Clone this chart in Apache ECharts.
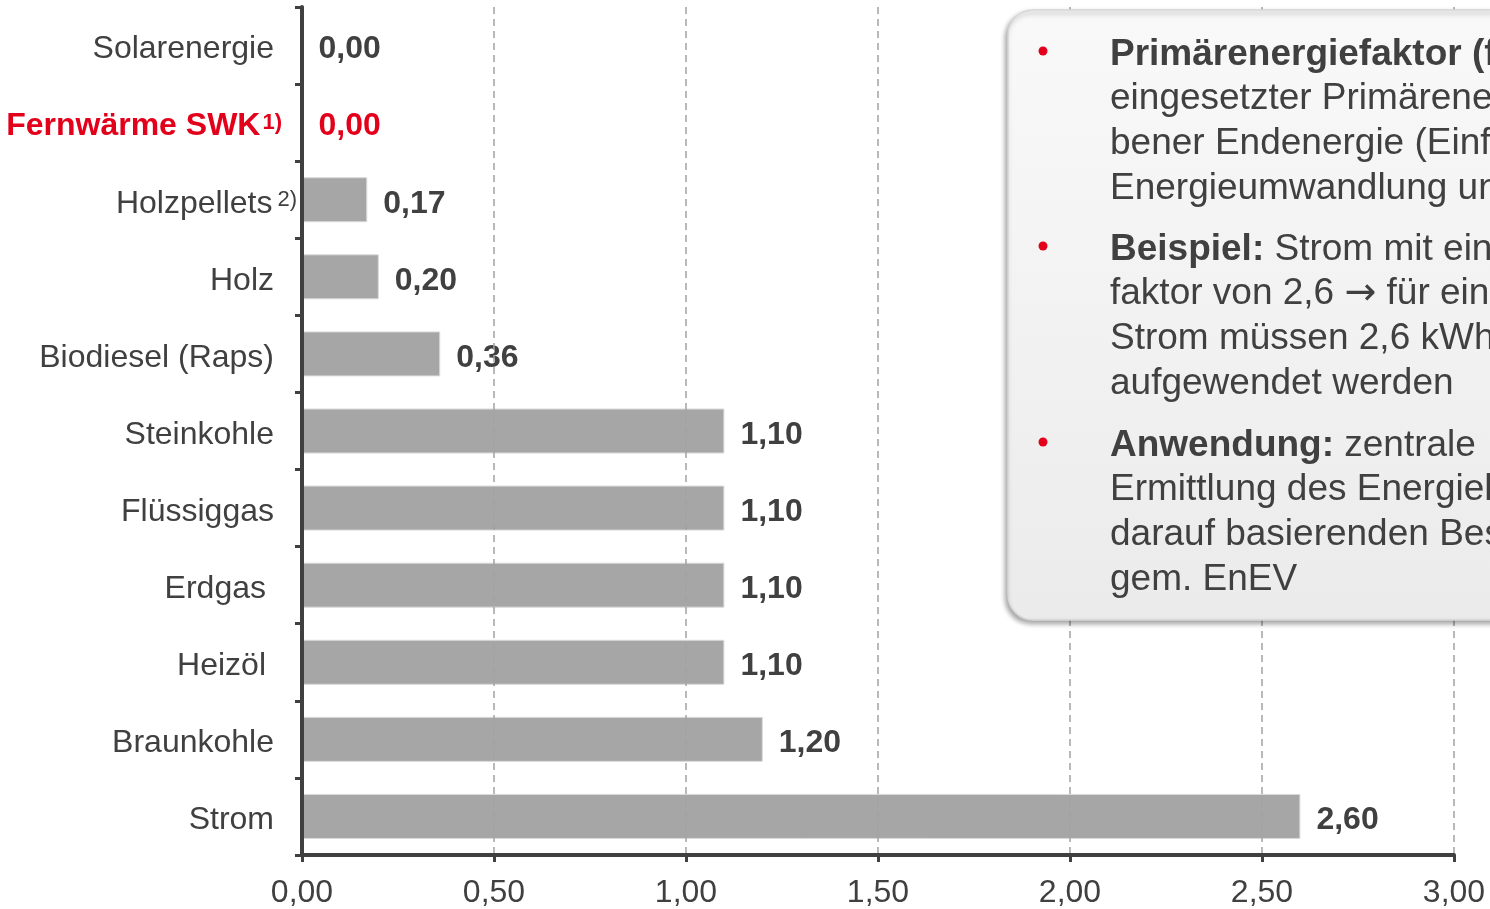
<!DOCTYPE html>
<html>
<head>
<meta charset="utf-8">
<script src="https://cdn.jsdelivr.net/npm/echarts@6/dist/echarts.min.js"></script>
<style>
  html, body { margin: 0; padding: 0; background: #fff; }
  #myEcharts { width: 1490px; height: 909px; }
</style>
</head>
<body>
<div id="myEcharts"></div>
<script>
// Kategorien von oben nach unten
var categories = ['Solarenergie', 'Fernwärme SWK', 'Holzpellets', 'Holz', 'Biodiesel (Raps)',
  'Steinkohle', 'Flüssiggas', 'Erdgas', 'Heizöl', 'Braunkohle', 'Strom'];
// Primärenergiefaktoren
var values = [0.00, 0.00, 0.17, 0.20, 0.36, 1.10, 1.10, 1.10, 1.10, 1.20, 2.60];
var highlight = 'Fernwärme SWK';
var footnotes = { 'Fernwärme SWK': '1)', 'Holzpellets': '2)' };
// Achsenbeschriftung
var xTicks = ['0,00', '0,50', '1,00', '1,50', '2,00', '2,50', '3,00'];

// Textbox rechts oben
var infoParagraphs = [
  ['{b|Primärenergiefaktor (f}', '{r|eingesetzter Primärene}', '{r|bener Endenergie (Einf}', '{r|Energieumwandlung un}'],
  ['{b|Beispiel:}{r| Strom mit ein}', '{r|faktor von 2,6 }{a|→}{r| für ein}', '{r|Strom müssen 2,6 kWh}', '{r|aufgewendet werden}'],
  ['{b|Anwendung:}{r| zentrale}', '{r|Ermittlung des Energiek}', '{r|darauf basierenden Bes}', '{r|gem. EnEV}']
];

var dark = '#404040';
var red = '#e2001a';
var font = 'Arial, "Liberation Sans", sans-serif';

function fmt(v) { return v.toFixed(2).replace('.', ','); }

window.onload = function () {
  var myChart = echarts.init(document.getElementById('myEcharts'));

  var seriesData = values.map(function (v, i) {
    if (categories[i] === highlight) {
      return { value: v, label: { color: red } };
    }
    return v;
  });

  // Absatz-Texte der Infobox
  var infoGraphics = [];
  var paraTops = [32, 227, 423];
  var bullets = [51, 246, 442];
  var lh = 44.7;
  infoParagraphs.forEach(function (lines, p) {
    infoGraphics.push({
      type: 'circle', z: 102,
      shape: { cx: 1043, cy: bullets[p], r: 4.5 },
      style: { fill: red }
    });
    infoGraphics.push({
      type: 'text', z: 102,
      x: 1110, y: paraTops[p],
      style: {
        text: lines.join('\n'),
        fill: dark,
        font: '37px ' + font,
        verticalAlign: 'top',
        rich: {
          b: { fontSize: 37, fontWeight: 'bold', fontFamily: font, color: dark, lineHeight: lh },
          r: { fontSize: 37, fontFamily: font, color: dark, lineHeight: lh },
          a: { fontSize: 38, fontFamily: '"DejaVu Sans"', color: dark, lineHeight: lh }
        }
      }
    });
  });

  var option = {
    animation: false,
    backgroundColor: '#ffffff',
    textStyle: { fontFamily: font },
    grid: { left: 302, right: 36, top: 7, bottom: 51, containLabel: false },
    xAxis: {
      type: 'value',
      min: 0, max: 3, interval: 0.5,
      z: 5,
      axisLine: { show: true, lineStyle: { color: dark, width: 4 } },
      axisTick: { show: true, length: 7, lineStyle: { color: dark, width: 3 } },
      axisLabel: {
        margin: 22, fontSize: 32, color: dark, fontFamily: font,
        formatter: function (v) { return xTicks[Math.round(v / 0.5)]; }
      },
      splitLine: { show: true, lineStyle: { color: '#a3a3a3', width: 1.5, type: [7, 5] } }
    },
    yAxis: {
      type: 'category',
      inverse: true,
      data: categories,
      z: 5,
      axisLine: { show: true, lineStyle: { color: dark, width: 4 } },
      axisTick: { show: true, length: 7, lineStyle: { color: dark, width: 3 } },
      axisLabel: {
        margin: 5,
        formatter: function (name) {
          if (name === highlight) return '{fw|' + name + '}{fwsup|' + footnotes[name] + '}';
          if (footnotes[name]) return '{hp|' + name + '}{sup|' + footnotes[name] + '}';
          if (name === 'Erdgas' || name === 'Heizöl') return '{n2|' + name + '}';
          return '{n|' + name + '}';
        },
        rich: {
          n: { fontSize: 32, color: dark, fontFamily: font, lineHeight: 36, padding: [8, 23, 0, 0] },
          n2: { fontSize: 32, color: dark, fontFamily: font, lineHeight: 36, padding: [8, 31, 0, 0] },
          hp: { fontSize: 32, color: dark, fontFamily: font, lineHeight: 36, padding: [8, 0, 0, 0] },
          sup: { fontSize: 22, color: dark, fontFamily: font, verticalAlign: 'top', padding: [7, 0, 0, 5] },
          fw: { fontSize: 32, color: red, fontWeight: 'bold', fontFamily: font, lineHeight: 36, padding: [8, 0, 0, 0] },
          fwsup: { fontSize: 22, color: red, fontWeight: 'bold', fontFamily: font, verticalAlign: 'top', padding: [7, 15, 0, 2] }
        }
      }
    },
    series: [{
      type: 'bar',
      data: seriesData,
      barWidth: 45,
      itemStyle: { color: '#a6a6a6', borderColor: '#dadada', borderWidth: 1 },
      label: {
        show: true,
        position: 'right',
        distance: 16,
        offset: [0, 4],
        fontSize: 32,
        fontWeight: 'bold',
        fontFamily: font,
        color: dark,
        formatter: function (p) { return fmt(p.value); }
      }
    }],
    graphic: [{
      type: 'rect', z: 100,
      shape: { x: 1008, y: 10, width: 700, height: 610, r: 25 },
      style: {
        fill: new echarts.graphic.LinearGradient(0, 0, 0, 1, [
          { offset: 0, color: '#f9f9f9' },
          { offset: 1, color: '#ebebeb' }
        ]),
        stroke: '#d6d6d6',
        lineWidth: 1.5,
        shadowColor: 'rgba(0,0,0,0.35)',
        shadowBlur: 5,
        shadowOffsetX: -2,
        shadowOffsetY: 3
      }
    }].concat(infoGraphics)
  };

  myChart.setOption(option);
};
</script>
</body>
</html>
